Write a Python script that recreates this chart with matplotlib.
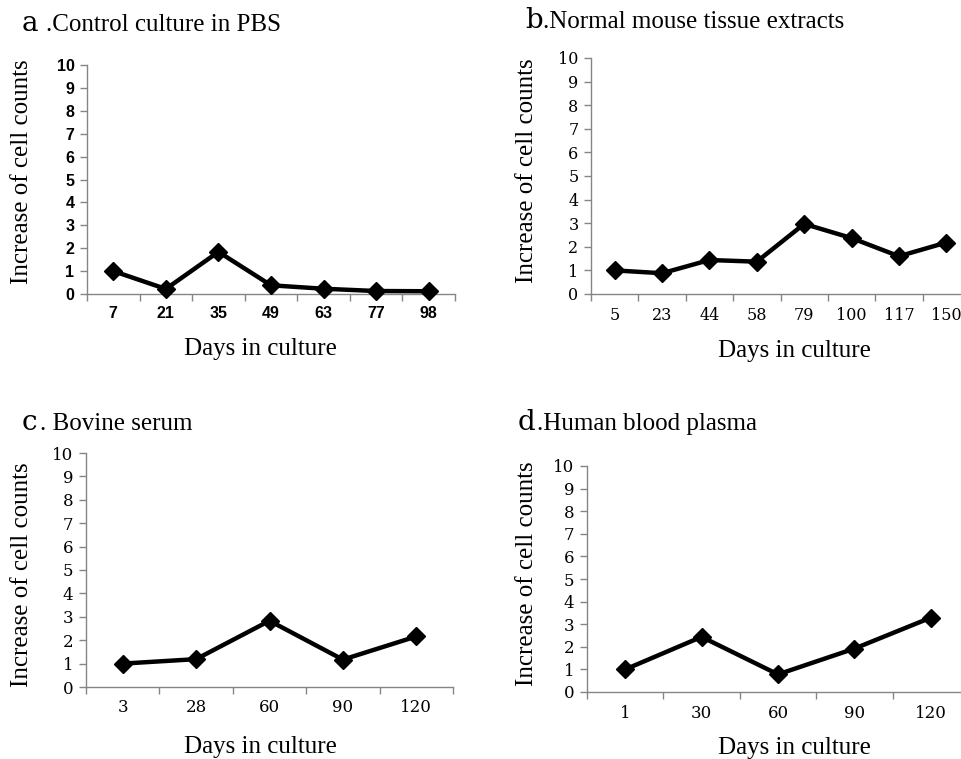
import matplotlib
matplotlib.use("Agg")
import matplotlib.pyplot as plt
import numpy as np

W, H = 961, 759

# ---- data ----
days_a = ["7", "21", "35", "49", "63", "77", "98"]
vals_a = [1.0, 0.22, 1.84, 0.38, 0.23, 0.13, 0.12]

days_b = ["5", "23", "44", "58", "79", "100", "117", "150"]
vals_b = [1.0, 0.88, 1.44, 1.37, 2.97, 2.37, 1.6, 2.18]

days_c = ["3", "28", "60", "90", "120"]
vals_c = [1.0, 1.19, 2.83, 1.17, 2.16]

days_d = ["1", "30", "60", "90", "120"]
vals_d = [1.0, 2.44, 0.78, 1.92, 3.29]

yticks = list(range(0, 11))

fig = plt.figure(figsize=(W / 100, H / 100), dpi=100)

SERIF = "Liberation Serif"
GRAY = "#858585"


def px_axes(l, r, t, b):
    return fig.add_axes([l / W, 1 - b / H, (r - l) / W, (b - t) / H])


def panel(box, cats, vals, tickfont, tickweight, ticksize):
    ax = px_axes(*box)
    x = np.arange(len(cats))
    ax.plot(x, vals, color="black", lw=3.2, marker="D", ms=9.5,
            solid_joinstyle="miter", zorder=3, clip_on=False)
    ax.set_xlim(-0.5, len(cats) - 0.5)
    ax.set_ylim(0, 10)
    for s in ["top", "right"]:
        ax.spines[s].set_visible(False)
    for s in ["left", "bottom"]:
        ax.spines[s].set_color(GRAY)
        ax.spines[s].set_linewidth(1.0)
    ax.set_yticks(yticks)
    ax.set_yticklabels([str(v) for v in yticks], fontfamily=tickfont,
                       fontweight=tickweight, fontsize=ticksize)
    ax.set_xticks(x)
    ax.set_xticklabels(cats, fontfamily=tickfont, fontweight=tickweight,
                       fontsize=ticksize)
    ax.set_xticks(np.arange(len(cats) + 1) - 0.5, minor=True)
    ax.tick_params(axis="x", which="major", length=0, pad=9)
    ax.tick_params(axis="x", which="minor", length=5, color=GRAY, width=1)
    ax.tick_params(axis="y", length=5, color=GRAY, width=1, pad=4)
    return ax


panel((87, 455, 65, 294), days_a, vals_a, "Liberation Sans", "bold", 11.5)
panel((591, 970, 58, 294), days_b, vals_b, "DejaVu Serif", "normal", 11.5)
panel((86, 453, 453, 687), days_c, vals_c, "DejaVu Serif", "normal", 12)
panel((587, 969, 466, 692), days_d, vals_d, "DejaVu Serif", "normal", 12)


def ftext(x, y, s, **kw):
    fig.text(x / W, 1 - y / H, s, **kw)


# titles: (letter x, rest x, baseline y, letter, rest)
titles = [
    (22, 46, 31, "a", ".Control culture in PBS"),
    (525, 543, 28, "b", ".Normal mouse tissue extracts"),
    (22, 40, 430, "c", ". Bovine serum"),
    (518, 537, 430, "d", ".Human blood plasma"),
]
for lx, tx, by, letter, rest in titles:
    ftext(lx, by, letter, fontfamily="DejaVu Serif", fontsize=20,
          va="baseline", ha="left")
    ftext(tx, by, rest, fontfamily=SERIF, fontsize=18, va="baseline", ha="left")

# y labels
for x, y in [(22, 172), (527, 171), (22, 575), (527, 574)]:
    ftext(x, y, "Increase of cell counts", fontfamily=SERIF, fontsize=18,
          rotation=90, ha="center", va="center")

# x labels
for x, y in [(260, 349), (794, 351), (260, 747), (794, 748)]:
    ftext(x, y, "Days in culture", fontfamily=SERIF, fontsize=18,
          ha="center", va="center")

fig.savefig("out.png", dpi=100, facecolor="white")
